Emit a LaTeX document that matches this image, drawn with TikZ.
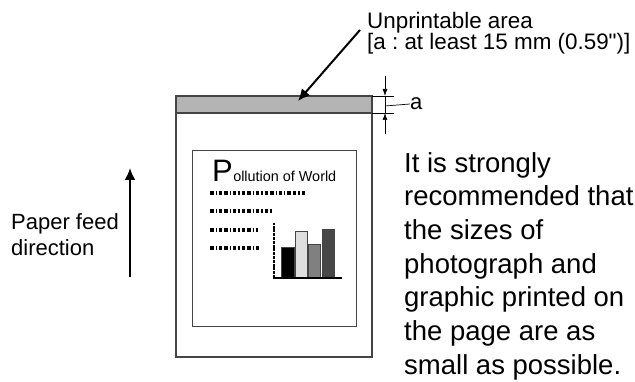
\documentclass[tikz,border=0pt]{standalone}
\usepackage{fontspec}
\setmainfont{Liberation Sans}
\newfontfamily\qfont{Liberation Sans}[Ligatures=TeXOff]
\frenchspacing
\usetikzlibrary{arrows.meta}
\definecolor{bandgray}{HTML}{B4B4B4}
\definecolor{edgegray}{HTML}{444444}
\begin{document}
\begin{tikzpicture}[x=1pt,y=-1pt,
  paperline/.style={draw=edgegray,line width=1.2pt},
  boxline/.style={draw=edgegray,line width=0.9pt},
  bigarrow/.style={line width=2pt,-{Latex[length=12pt,width=11pt]}},
  dimline/.style={line width=0.7pt},
  dimarrow/.style={line width=0.7pt,-{Latex[length=7pt,width=5pt]}},
  dotrow/.style={line width=3.5pt,dash pattern={on 3.5pt off 2pt on 1.2pt off 2pt on 3.5pt off 2pt on 3.5pt off 2pt on 1.2pt off 2pt}},
  bar/.style={draw=edgegray,line width=0.9pt},
  txt/.style={inner sep=0pt,anchor=north west,align=left}]
\useasboundingbox (0,0) rectangle (635,382);
% paper
\draw[paperline] (176,96) rectangle (372,357);
\filldraw[fill=bandgray,paperline] (176,96) rectangle (372,113);
\coordinate (bandpt) at (298,101);
% inner box
\draw[boxline] (192,150) rectangle (356,326);
% title
\node[inner sep=0pt,anchor=base west,font=\fontsize{31}{31}\selectfont] (bigp) at (212,182) {P};
\node[inner sep=0pt,anchor=base west,font=\fontsize{14.4}{14.4}\selectfont] (ptitle) at (bigp.base east) {ollution of World};
% dotted rows
\draw[dotrow] (210,193) -- (306,193);
\draw[dotrow] (210,211) -- (272,211);
\draw[dotrow] (210,230) -- (258,230);
\draw[dotrow] (210,248) -- (260,248);
% chart
\draw[bar,fill=black] (281,278) rectangle (294,247);
\draw[bar,fill=black!13] (295,278) rectangle (307,231);
\draw[bar,fill=black!50] (308,278) rectangle (320,244);
\draw[bar,fill=black!72] (322,278) rectangle (334,229);
\draw[line width=1.8pt,dash pattern={on 3pt off 0.8pt}] (274,278) -- (274,223);
\draw[line width=1.8pt] (273,278) -- (342,278);
% unprintable label
\node[txt,font=\fontsize{22.4}{21.5}\selectfont] (unp) at (367,12) {Unprintable area\\{}[a : at least 15 mm (0.59{\qfont "})]};
\coordinate (unpstart) at (360,30);
\draw[bigarrow] (unpstart) -- (bandpt);
% dimension a
\coordinate (ext1a) at (372,96); \coordinate (ext1b) at (394,96);
\coordinate (ext2a) at (372,113); \coordinate (ext2b) at (394,113);
\draw[dimline] (ext1a) -- (ext1b);
\draw[dimline] (ext2a) -- (ext2b);
\coordinate (dtop) at (385,76); \coordinate (dtopend) at (385,96);
\coordinate (dbot) at (385,134); \coordinate (dbotend) at (385,113);
\draw[dimarrow] (dtop) -- (dtopend);
\draw[dimarrow] (dbot) -- (dbotend);
\draw[dimline] (385,96) -- (385,113);
\node[inner sep=0pt,anchor=west,font=\fontsize{22}{22}\selectfont] (alabel) at (410,104) {a};
\draw[dimline] (385,106) -- (alabel.west);
% paper feed
\node[txt,font=\fontsize{22}{26}\selectfont] (feed) at (11,213) {Paper feed\\direction};
\coordinate (feedstart) at (130,277);
\coordinate (feedend) at (130,168);
\draw[bigarrow] (feedstart) -- (feedend);
% note
\node[txt,font=\fontsize{27.5}{33.7}\selectfont] (note) at (404,152) {It is strongly\\recommended that\\the sizes of\\photograph and\\graphic printed on\\the page are as\\small as possible.};
\end{tikzpicture}
\end{document}
